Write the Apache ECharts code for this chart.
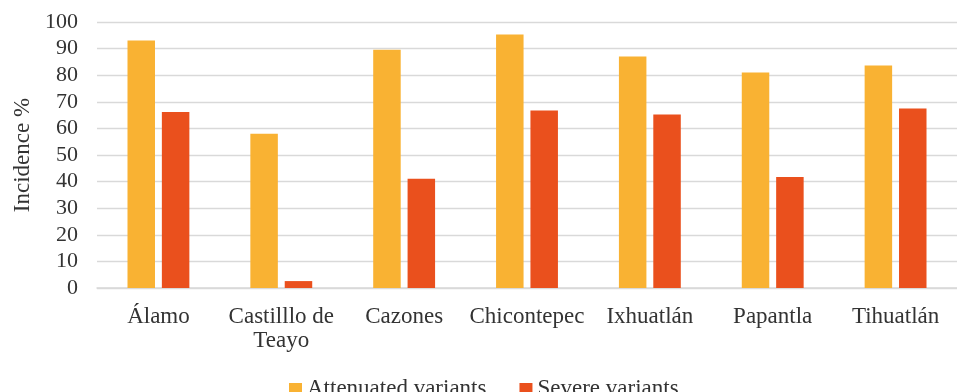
<!DOCTYPE html>
<html>
<head>
<meta charset="utf-8">
<script src="https://cdn.jsdelivr.net/npm/echarts@6/dist/echarts.min.js"></script>
<style>
html,body{margin:0;padding:0;background:#fff;}
#chart{width:957px;height:392px;}
</style>
</head>
<body>
<div id="chart"></div>
<script>
const categories = ['Álamo', 'Castilllo de Teayo', 'Cazones', 'Chicontepec', 'Ixhuatlán', 'Papantla', 'Tihuatlán'];
const attenuated = [93.0, 58.0, 89.6, 95.3, 87.0, 81.0, 83.6];
const severe = [66.2, 2.6, 41.1, 66.7, 65.2, 41.7, 67.5];
const seriesNames = ['Attenuated variants', 'Severe variants'];
const yTicks = { min: 0, max: 100, interval: 10 };

const font = 'Liberation Serif';
const textColor = '#333333';
const chart = echarts.init(document.getElementById('chart'));
chart.setOption({
  animation: false,
  grid: { left: 97, width: 861, top: 22, bottom: 104, containLabel: false },
  legend: {
    data: seriesNames,
    left: 284, top: 372,
    itemWidth: 13, itemHeight: 12, itemGap: 33,
    icon: 'rect',
    textStyle: { fontFamily: font, fontSize: 23, color: textColor, lineHeight: 24 }
  },
  xAxis: {
    type: 'category',
    data: categories,
    axisTick: { show: false },
    axisLine: { lineStyle: { color: '#d9d9d9', width: 1.5 } },
    axisLabel: {
      interval: 0,
      margin: 17,
      fontFamily: font, fontSize: 23, color: textColor, lineHeight: 24,
      formatter: v => v.replace(' de ', ' de\n')
    }
  },
  yAxis: {
    type: 'value',
    min: yTicks.min, max: yTicks.max, interval: yTicks.interval,
    name: 'Incidence %',
    nameLocation: 'middle',
    nameGap: 61,
    nameRotate: 90,
    nameTextStyle: { fontFamily: font, fontSize: 23, color: textColor },
    axisLine: { show: false },
    axisTick: { show: false },
    splitLine: { lineStyle: { color: '#d9d9d9', width: 1.3 } },
    axisLabel: { margin: 19, fontFamily: font, fontSize: 22, color: textColor }
  },
  series: [
    { name: seriesNames[0], type: 'bar', data: attenuated, barWidth: 27.5, barGap: '25%', itemStyle: { color: '#F9B233' } },
    { name: seriesNames[1], type: 'bar', data: severe, barWidth: 27.5, barGap: '25%', itemStyle: { color: '#EA501D' } }
  ]
});
</script>
</body>
</html>
